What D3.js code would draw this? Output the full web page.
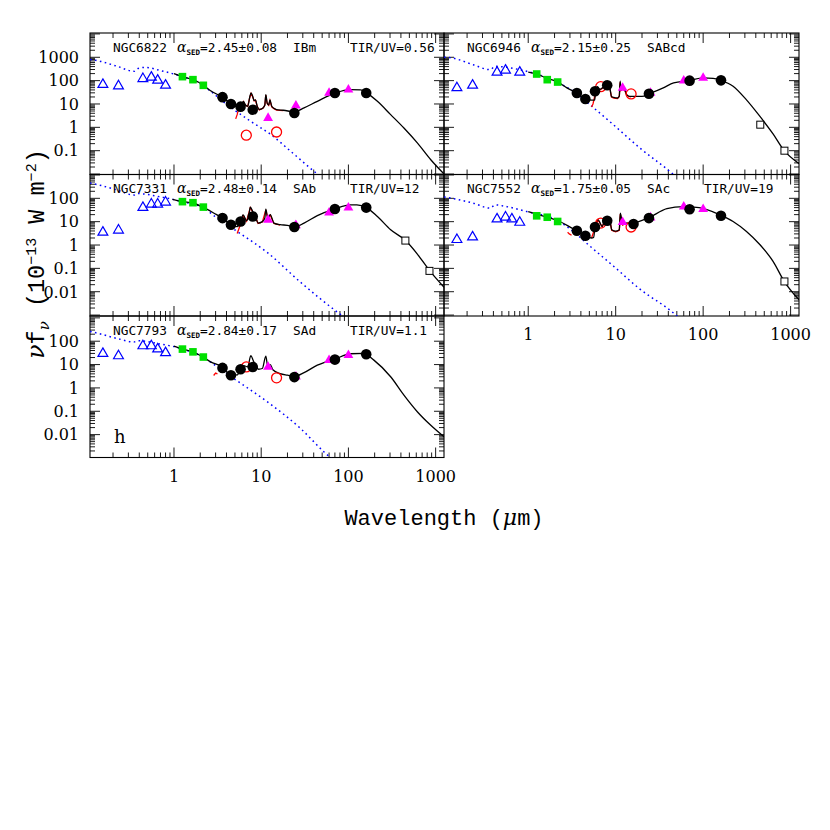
<!DOCTYPE html>
<html><head><meta charset="utf-8">
<script src="https://cdn.jsdelivr.net/npm/d3@7"></script>
<style>body{margin:0;background:#fff}</style>
</head><body><svg id="c" width="830" height="830"></svg>
<script>
// ---------------- DATA ----------------
const galaxies   = ["NGC6822", "NGC6946", "NGC7331", "NGC7552", "NGC7793"];
const alphaSED   = ["2.45\u00b10.08", "2.15\u00b10.25", "2.48\u00b10.14", "1.75\u00b10.05", "2.84\u00b10.17"];
const morphType  = ["IBm", "SABcd", "SAb", "SAc", "SAd"];
const tirUV      = ["0.56", "", "12", "19", "1.1"];
const panelTag   = ["", "", "", "", "h"];

const yTickLabelsTop   = ["1000", "100", "10", "1", "0.1"];
const yTickLabelsLower = ["100", "10", "1", "0.1", "0.01"];
const xTickLabels      = ["1", "10", "100", "1000"];

// UV/optical (blue open triangles)
const uvWave = [0.153, 0.231, 0.44, 0.55, 0.65, 0.80];
const uvFlux = [
  [68, 59, 121, 139, 103, 63],
  [49, 63, 228, 278, null, 228],
  [3.5, 4.3, 40, 56, 56, 68],
  [1.7, 2.2, 12.9, 15.5, 12.9, 9.3],
  [29.5, 23.5, 63, 63, 46, 32]
];
// near-IR (green squares)
const nirWave = [1.25, 1.65, 2.17];
const nirFlux = [
  [148, 110, 63],
  [192, 110, 87],
  [72, 65, 42],
  [17.8, 15.5, 10.2],
  [46, 35, 21]
];
// Spitzer IRAC + MIPS (black filled circles)
const spitzerWave = [3.6, 4.5, 5.8, 8.0, 24, 70, 160];
const spitzerFlux = [
  [19.6, 10, 7.7, 5.7, 4.1, 29.5, 29.5],
  [29.5, 16.3, 35, 63, 27.5, 100, 103],
  [14.2, 7.4, 10.2, 16.6, 5.9, 35, 40],
  [4.1, 2.5, 5.9, 11, 14.2, 34, 18],
  [7.2, 3.5, 6.3, 7.9, 2.9, 16.3, 27.7]
];
const irs16Wave = [16];
const irs16Flux = [[null], [null], [null], [7.9], [null]];
// IRAS (magenta filled triangles)
const irasWave = [12, 25, 60, 100];
const irasFlux = [
  [2.5, 8.5, 29.5, 41],
  [49, 30, 100, 130],
  [12, 7, 24.5, 40],
  [9.6, 15, 44, 34],
  [7.9, 3, 15.5, 25]
];
// ISOCAM (red open circles)
const isoWave = [6.75, 15];
const isoFlux = [
  [0.46, 0.63],
  [55, 27],
  [null, null],
  [8.7, 5.9],
  [7.9, 2.7]
];
// Submm (black open squares)
const subWave = [450, 850];
const subFlux = [
  [null, null],
  [1.3, 0.10],
  [1.55, 0.078],
  [null, 0.0275],
  [null, null]
];

// Model SEDs (black solid)
const modelNGC6822 = [[1.0,200],[1.25,148],[1.65,110],[2.15,66],[2.63,37],[3.58,19.6],[4.47,10.5],[5.0,8],[5.6,7],[6.0,9],[6.25,13],[6.6,9],[7.0,8],[7.4,20],[7.65,30],[8.0,21],[8.3,14],[8.6,15],[9.0,8],[9.5,5.8],[10.5,6.8],[11.0,9],[11.3,25],[11.7,11],[12.2,9],[12.6,15],[13.2,8],[14,6.5],[15,5.7],[18,5.4],[24,4.6],[31,6.8],[44,13],[70,29],[105,41],[138,40],[161,30],[215,13],[305,3.5],[433,0.93],[620,0.21],[880,0.041],[1250,0.01]];
const modelNGC6946 = [[1.0,230],[1.25,192],[1.65,125],[2.14,90],[2.77,49],[3.57,29.5],[4.48,16.3],[5.0,15],[5.6,14.5],[5.75,15],[5.9,35],[6.2,55],[6.6,42],[7.0,48],[7.5,60],[7.7,94],[7.9,55],[8.3,50],[8.6,45],[8.95,21],[9.5,19],[10.5,18],[11.0,22],[11.25,94],[11.5,40],[12.0,45],[12.7,40],[13.3,26],[14,22],[15,21],[20,21],[24.2,27.5],[35,49],[46,80],[69,100],[100,130],[130,125],[159,103],[220,58],[313,15],[444,3],[630,0.52],[845,0.1],[1250,0.028]];
const modelNGC7331 = [[0.96,91],[1.25,72],[1.64,63],[2.15,42],[2.88,23],[3.58,14.2],[4.47,7.4],[5.3,6.1],[5.8,10],[6.2,19.6],[6.8,11],[7.2,18],[7.5,42],[8.0,27],[8.6,16.6],[9.2,8.7],[10.3,10],[11.0,14],[11.3,34],[11.9,14],[12.7,20],[14,8.7],[16.5,7.4],[20,7],[24,5.9],[31,8.7],[44,18],[70,35],[105,52],[125,52],[161,40],[215,16.6],[305,4.5],[453,1.55],[620,0.4],[858,0.078],[1250,0.0155]];
const modelNGC7552 = [[1.0,27],[1.25,21],[1.65,15.5],[2.14,11.5],[3.27,4.9],[3.57,4.1],[4.48,2.5],[5.3,2.0],[5.6,2.1],[5.8,5.9],[6.3,12],[7.0,6.3],[7.7,14.5],[8.3,12.5],[8.6,11],[9.0,4.5],[10,3.9],[11.0,4.5],[11.3,23],[12.0,7.5],[13,8.7],[16,9],[24,15],[38.5,36],[59,44],[90,40],[159,19],[220,10.2],[313,3.8],[444,1.05],[630,0.2],[845,0.028],[1250,0.0045]];
const modelNGC7793 = [[1.0,61],[1.25,46],[1.64,35],[2.15,21],[2.63,13],[3.58,7.8],[4.47,3.6],[5.3,3.6],[5.8,6.5],[6.3,9],[7.0,8],[7.6,24],[8.1,15],[8.6,9.5],[9.3,6.3],[10.3,6.8],[11.3,23],[11.9,8],[12.7,10],[13.6,6],[16.5,4.1],[20,3.5],[24,3.1],[31,4.5],[44,9.4],[70,17],[105,29],[150,30],[196,15.5],[305,3],[433,0.49],[620,0.093],[880,0.025],[1250,0.008]];
const modelCurves = [modelNGC6822, modelNGC6946, modelNGC7331, modelNGC7552, modelNGC7793];

// Stellar templates (blue dotted)
const starNGC6822 = [[0.109,800],[0.127,740],[0.224,410],[0.348,250],[0.38,325],[0.47,370],[0.70,270],[0.96,200],[1.25,148],[1.65,105],[2.15,63],[2.63,35],[4.08,9.3],[7.6,1.8],[12.9,0.49],[21.8,0.094],[40.4,0.013],[60,0.004]];
const starNGC6946 = [[0.109,1000],[0.133,940],[0.235,480],[0.365,295],[0.42,410],[0.57,370],[0.96,250],[1.25,192],[2.14,87],[3.27,35],[5.07,9.3],[9.4,1.3],[18.9,0.13],[41.6,0.013],[60,0.004]];
const starNGC7331 = [[0.109,450],[0.127,400],[0.224,225],[0.348,138],[0.38,160],[0.47,150],[0.70,115],[0.96,91],[1.25,72],[2.15,40],[3.14,14],[5.3,3.8],[11.8,0.47],[28.4,0.025],[74.5,0.00135],[100,0.0006]];
const starNGC7552 = [[0.109,115],[0.133,100],[0.235,62],[0.365,38],[0.42,52],[0.57,44],[0.96,27],[2.14,11.5],[3.27,3.8],[5.07,0.9],[9.4,0.126],[18.9,0.013],[45.4,0.00126],[60,0.0005]];
const starNGC7793 = [[0.109,260],[0.127,230],[0.224,130],[0.348,93],[0.38,105],[0.47,100],[0.70,75],[0.96,61],[1.25,46],[2.15,21],[3.14,7.9],[4.87,2.5],[11.8,0.25],[28.4,0.018],[52.6,0.0018],[70,0.0007]];
const starCurves = [starNGC6822, starNGC6946, starNGC7331, starNGC7552, starNGC7793];

// Red spectra segments
const redNGC6822 = [[[5.1,2.3],[5.3,3.5],[5.5,6],[5.7,7.5],[6.0,8.8],[6.25,12.5],[6.6,8.8],[7.0,7.8],[7.4,19],[7.65,28],[8.0,20],[8.3,13.5],[8.6,14.5],[9.0,7.8],[9.5,5.6],[10.5,6.6],[11.0,8.8],[11.3,24],[11.7,10.5],[12.2,8.8],[12.6,14],[13.2,7.6],[14,6.3],[15,5.5],[18,5.2]]];
const redNGC6946 = [[[5.3,7.4],[5.5,10],[5.7,18],[5.9,30],[6.2,50],[6.6,40],[7.0,46],[7.5,58],[7.7,85],[7.9,52],[8.3,48],[8.6,42],[8.95,20],[9.5,18],[10.5,17],[11.0,21],[11.25,85],[11.5,38],[12.0,43],[12.7,38],[13.3,25],[14,21],[15,20]]];
const redNGC7331 = [[[5.3,3.1],[5.5,4.5],[5.8,8],[6.2,18],[6.8,10.5],[7.5,40],[8.0,26],[8.6,16],[9.2,8.4],[10.3,9.6],[11.3,32],[11.9,13.5],[12.7,19],[14,8.4],[16.5,7.1]]];
const redNGC7552 = [[[2.82,3.5],[2.95,3.0],[3.13,2.6]],[[5.3,2.0],[5.8,5.5],[6.3,11.5],[7.0,6],[7.7,14],[8.3,12],[8.6,10.5],[9.0,4.3],[10,3.7],[11.0,4.3],[11.3,21],[12.0,7.2],[13,8.3],[16,8.6]]];
const redNGC7793 = [[[2.85,3.4],[3.0,4.3],[3.15,4.0]]];
const redCurves = [redNGC6822, redNGC6946, redNGC7331, redNGC7552, redNGC7793];

// ---------------- LAYOUT ----------------
const panelRow = [0, 0, 1, 1, 2];
const panelCol = [0, 1, 0, 1, 0];
const colLeft = [90, 444], colRight = [444, 799];
const rowTop = [33, 174.5, 316], rowBot = [174.5, 316, 457.5];
const yLogDomain = [[-2.02, 4.04], [-3.04, 3.02], [-2.98, 3.08]];
const xLogDomain = [-0.963, 3.096];

const svg = d3.select("#c");
const defs = svg.append("defs");
const serif = "'DejaVu Serif', serif";
const mono = "'DejaVu Sans Mono', monospace";
const tmono = "'Liberation Mono', 'DejaVu Sans Mono', monospace";

function logTicks(lo, hi) {
  const out = [];
  for (let d = Math.floor(lo) - 1; d <= Math.ceil(hi); d++)
    for (let m = 1; m < 10; m++) {
      const v = m * Math.pow(10, d), lv = Math.log10(v);
      if (lv > lo + 1e-6 && lv < hi - 1e-6) out.push({v, major: m === 1});
    }
  return out;
}

galaxies.forEach((name, i) => {
  const r = panelRow[i], c = panelCol[i];
  const L = colLeft[c], R = colRight[c], T = rowTop[r], B = rowBot[r];
  const x = d3.scaleLog().domain([Math.pow(10, xLogDomain[0]), Math.pow(10, xLogDomain[1])]).range([L, R]);
  const y = d3.scaleLog().domain([Math.pow(10, yLogDomain[r][0]), Math.pow(10, yLogDomain[r][1])]).range([B, T]);
  const g = svg.append("g");

  const clipId = "clip" + i;
  defs.append("clipPath").attr("id", clipId).append("rect")
    .attr("x", L).attr("y", T).attr("width", R - L).attr("height", B - T);

  // ticks
  const tk = g.append("g").attr("stroke", "#000").attr("stroke-width", 0.9);
  logTicks(xLogDomain[0], xLogDomain[1]).forEach(t => {
    const px = x(t.v), len = t.major ? 10 : 5;
    tk.append("line").attr("x1", px).attr("x2", px).attr("y1", B).attr("y2", B - len);
    tk.append("line").attr("x1", px).attr("x2", px).attr("y1", T).attr("y2", T + len);
  });
  logTicks(yLogDomain[r][0], yLogDomain[r][1]).forEach(t => {
    const py = y(t.v), len = t.major ? 10 : 5;
    tk.append("line").attr("y1", py).attr("y2", py).attr("x1", L).attr("x2", L + len);
    tk.append("line").attr("y1", py).attr("y2", py).attr("x1", R).attr("x2", R - len);
  });
  g.append("rect").attr("x", L).attr("y", T).attr("width", R - L).attr("height", B - T)
    .attr("fill", "none").attr("stroke", "#000").attr("stroke-width", 1.1);

  // y tick labels
  if (c === 0) {
    const labs = r === 0 ? yTickLabelsTop : yTickLabelsLower;
    labs.forEach(s => {
      g.append("text").attr("x", 79).attr("y", y(+s) + 5.8).attr("text-anchor", "end")
        .style("font-family", serif).style("font-size", "16px").text(s);
    });
  }
  // x tick labels
  if ((c === 0 && r === 2) || (c === 1 && r === 1)) {
    xTickLabels.forEach(s => {
      g.append("text").attr("x", x(+s)).attr("y", B + 24).attr("text-anchor", "middle")
        .style("font-family", serif).style("font-size", "16px").text(s);
    });
  }

  const cg = g.append("g").attr("clip-path", `url(#${clipId})`);
  const line = d3.line().x(d => x(d[0])).y(d => y(d[1])).curve(d3.curveMonotoneX);
  const lineLin = d3.line().x(d => x(d[0])).y(d => y(d[1]));

  cg.append("path").attr("d", line(starCurves[i])).attr("fill", "none")
    .attr("stroke", "#0000ff").attr("stroke-width", 1.5).attr("stroke-dasharray", "1.6,3.4");
  redCurves[i].forEach(seg => {
    cg.append("path").attr("d", lineLin(seg)).attr("fill", "none")
      .attr("stroke", "#ff0000").attr("stroke-width", 1.3);
  });
  cg.append("path").attr("d", line(modelCurves[i])).attr("fill", "none")
    .attr("stroke", "#000").attr("stroke-width", 1.3);

  const pts = (waves, fl) => waves.map((w, k) => [w, fl[k]]).filter(d => d[1] != null);
  const tri = d3.symbol().type(d3.symbolTriangle).size(42);

  pts(uvWave, uvFlux[i]).forEach(d => {
    cg.append("path").attr("d", tri()).attr("transform", `translate(${x(d[0])},${y(d[1])})`)
      .attr("fill", "none").attr("stroke", "#0000ff").attr("stroke-width", 1.2);
  });
  pts(nirWave, nirFlux[i]).forEach(d => {
    cg.append("rect").attr("x", x(d[0]) - 3.8).attr("y", y(d[1]) - 3.8).attr("width", 7.6).attr("height", 7.6)
      .attr("fill", "#00e000");
  });
  pts(isoWave, isoFlux[i]).forEach(d => {
    cg.append("circle").attr("cx", x(d[0])).attr("cy", y(d[1])).attr("r", 5)
      .attr("fill", "none").attr("stroke", "#ff0000").attr("stroke-width", 1.3);
  });
  pts(irasWave, irasFlux[i]).forEach(d => {
    cg.append("path").attr("d", tri()).attr("transform", `translate(${x(d[0])},${y(d[1])})`)
      .attr("fill", "#ff00ff");
  });
  pts(spitzerWave, spitzerFlux[i]).concat(pts(irs16Wave, irs16Flux[i])).forEach(d => {
    cg.append("circle").attr("cx", x(d[0])).attr("cy", y(d[1])).attr("r", 5.3).attr("fill", "#000");
  });
  pts(subWave, subFlux[i]).forEach(d => {
    cg.append("rect").attr("x", x(d[0]) - 3.5).attr("y", y(d[1]) - 3.5).attr("width", 7).attr("height", 7)
      .attr("fill", "#fff").attr("stroke", "#000").attr("stroke-width", 1);
  });

  // panel text
  const ty = T + 18.5;
  const fs = "12.8px";
  g.append("text").attr("x", L + 23).attr("y", ty).style("font-family", mono).style("font-size", fs).text(name);
  const at = g.append("text").attr("x", L + 87).attr("y", ty).style("font-family", mono).style("font-size", fs);
  at.append("tspan").style("font-style", "italic").style("font-family", "'DejaVu Serif', serif").style("font-size", "14px").text("\u03b1");
  at.append("tspan").attr("dy", 3).style("font-size", "7.5px").style("font-weight", "bold").text("SED");
  at.append("tspan").attr("dy", -3).text("=" + alphaSED[i]);
  g.append("text").attr("x", L + 203).attr("y", ty).style("font-family", mono).style("font-size", fs).text(morphType[i]);
  if (tirUV[i]) g.append("text").attr("x", L + 260).attr("y", ty).style("font-family", mono).style("font-size", fs).text("TIR/UV=" + tirUV[i]);
  if (panelTag[i]) g.append("text").attr("x", L + 24).attr("y", B - 15).style("font-family", serif).style("font-size", "18px").text(panelTag[i]);
});

// axis titles
const xt = svg.append("text").attr("x", 444).attr("y", 525).attr("text-anchor", "middle")
  .style("font-family", tmono).style("font-size", "22px");
xt.append("tspan").text("Wavelength (");
xt.append("tspan").style("font-style", "italic").style("font-family", "'DejaVu Serif', serif").text("\u03bc");
xt.append("tspan").text("m)");

const yt = svg.append("text").attr("transform", "translate(44,254) rotate(-90)").attr("text-anchor", "middle")
  .style("font-family", tmono).style("font-size", "23.5px");
yt.append("tspan").style("font-style", "italic").style("font-family", "'DejaVu Serif', serif").text("\u03bd");
yt.append("tspan").text("f");
yt.append("tspan").attr("dy", 5).style("font-style", "italic").style("font-family", "'DejaVu Serif', serif").style("font-size", "15px").text("\u03bd");
yt.append("tspan").attr("dy", -5).text(" (10");
yt.append("tspan").attr("dy", -8).style("font-size", "15px").text("\u221213");
yt.append("tspan").attr("dy", 8).text(" W m");
yt.append("tspan").attr("dy", -8).style("font-size", "15px").text("\u22122");
yt.append("tspan").attr("dy", 8).text(")");
</script>
</body></html>
